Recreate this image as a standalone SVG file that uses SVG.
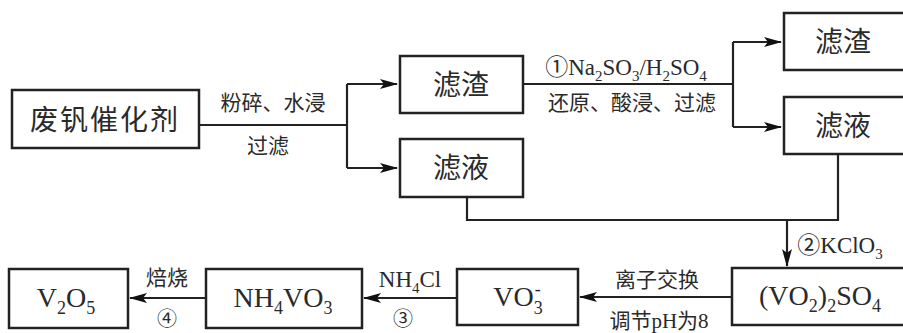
<svg xmlns="http://www.w3.org/2000/svg" width="903" height="333" viewBox="0 0 903 333">
<style>
.box{fill:#fff;stroke:#222;stroke-width:2.5}
.ln{fill:none;stroke:#222;stroke-width:2.2}
.t{font-family:"Liberation Serif","Noto Sans CJK SC",serif;fill:#2a2a2a;text-anchor:middle}
.big{font-size:28px}
.lab{font-size:21px}
.sub{font-size:15px}
</style>
<defs>
<marker id="ah" markerWidth="18" markerHeight="10" refX="17" refY="5" orient="auto" markerUnits="userSpaceOnUse">
<path d="M0,0 L18,5 L0,10 L4,5 Z" fill="#111"/>
</marker>
</defs>
<g id="connectors">
<path class="ln" d="M199,125 H347"/>
<path class="ln" d="M347,84 V168"/>
<path class="ln" d="M347,84 H397" marker-end="url(#ah)"/>
<path class="ln" d="M347,168 H397" marker-end="url(#ah)"/>
<path class="ln" d="M523,84 H733"/>
<path class="ln" d="M733,42 V127"/>
<path class="ln" d="M733,42 H781" marker-end="url(#ah)"/>
<path class="ln" d="M733,127 H781" marker-end="url(#ah)"/>
<path class="ln" d="M838,154 V220 H467 V197"/>
<path class="ln" d="M787,220 V266" marker-end="url(#ah)"/>
<path class="ln" d="M732,297 H580" marker-end="url(#ah)"/>
<path class="ln" d="M457,298 H364" marker-end="url(#ah)"/>
<path class="ln" d="M206,298 H130" marker-end="url(#ah)"/>
</g>
<g id="labels">
<text class="t lab" x="273" y="110">粉碎、水浸</text>
<text class="t lab" x="268" y="153">过滤</text>
<text class="t" x="626" y="75" font-size="23">①Na<tspan class="sub" dy="6">2</tspan><tspan dy="-6">SO</tspan><tspan class="sub" dy="6">3</tspan><tspan dy="-6">/H</tspan><tspan class="sub" dy="6">2</tspan><tspan dy="-6">SO</tspan><tspan class="sub" dy="6">4</tspan></text>
<text class="t lab" x="632" y="110">还原、酸浸、过滤</text>
<text class="t" x="840" y="253" font-size="23">②KClO<tspan class="sub" dy="6">3</tspan></text>
<text class="t lab" x="657" y="287">离子交换</text>
<text class="t lab" x="659" y="328">调节pH为8</text>
<text class="t" x="410" y="287" font-size="23">NH<tspan class="sub" dy="6">4</tspan><tspan dy="-6">Cl</tspan></text>
<text class="t" x="403" y="326" font-size="20">③</text>
<text class="t lab" x="167" y="285">焙烧</text>
<text class="t" x="167" y="326" font-size="20">④</text>
</g>
<g id="n1"><rect class="box" x="12" y="90" width="187" height="58"/><text class="t big" x="105" y="130" letter-spacing="2">废钒催化剂</text></g>
<g id="n2"><rect class="box" x="400" y="56" width="123" height="57"/><text class="t big" x="461" y="95">滤渣</text></g>
<g id="n3"><rect class="box" x="400" y="139" width="123" height="58"/><text class="t big" x="461" y="178">滤液</text></g>
<g id="n4"><rect class="box" x="784" y="13" width="130" height="57"/><text class="t big" x="843" y="52">滤渣</text></g>
<g id="n5"><rect class="box" x="784" y="97" width="130" height="57"/><text class="t big" x="843" y="136">滤液</text></g>
<g id="n6"><rect class="box" x="732" y="268" width="180" height="57"/><text class="t big" x="820" y="305">(VO<tspan font-size="18" dy="7">2</tspan><tspan dy="-7">)</tspan><tspan font-size="18" dy="7">2</tspan><tspan dy="-7">SO</tspan><tspan font-size="18" dy="7">4</tspan></text></g>
<g id="n7"><rect class="box" x="457" y="269" width="121" height="56"/><text class="t big" x="518" y="306">VO<tspan font-size="18" dy="8">3</tspan><tspan font-size="18" dx="-8" dy="-19">-</tspan></text></g>
<g id="n8"><rect class="box" x="206" y="269" width="156" height="59"/><text class="t big" x="283" y="307">NH<tspan font-size="18" dy="7">4</tspan><tspan dy="-7">VO</tspan><tspan font-size="18" dy="7">3</tspan></text></g>
<g id="n9"><rect class="box" x="9" y="269" width="119" height="59"/><text class="t big" x="66" y="307">V<tspan font-size="18" dy="7">2</tspan><tspan dy="-7">O</tspan><tspan font-size="18" dy="7">5</tspan></text></g>
</svg>
